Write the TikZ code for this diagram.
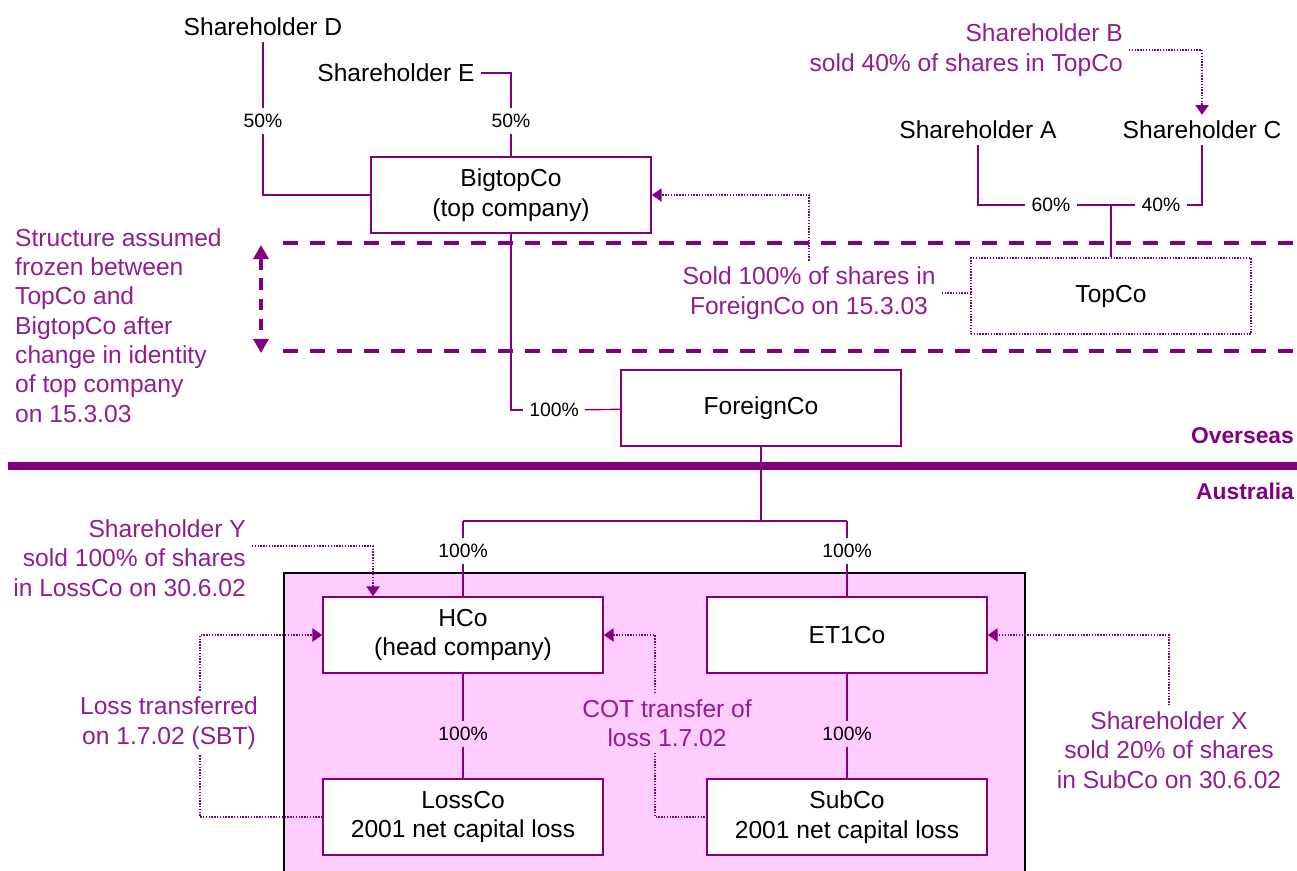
\documentclass[tikz,border=0pt]{standalone}
\usepackage{fontspec}
\setmainfont{Liberation Sans}
\usetikzlibrary{arrows.meta,positioning}
\definecolor{plum}{RGB}{128,0,128}
\definecolor{notepurple}{RGB}{145,30,145}
\definecolor{pinkfill}{RGB}{255,204,255}

\begin{document}
\begin{tikzpicture}[x=0.02cm,y=-0.02cm,
  font=\fontsize{14}{16.7}\selectfont,
  line/.style={draw=plum,line width=0.8pt},
  company/.style={draw=plum,line width=1pt,fill=white,minimum width=5.6cm,minimum height=1.52cm,align=center},
  pct/.style={font=\fontsize{11}{13}\selectfont},
  note/.style={text=notepurple},
  dots/.style={draw=plum,line width=0.8pt,dash pattern=on 0.8pt off 0.8pt},
  dotarrow/.style={dots,-{Triangle[length=5.5pt,width=7.5pt]}},
  freeze/.style={draw=plum,line width=2.8pt,dash pattern=on 8.5pt off 6.8pt},
  region/.style={text=plum,font=\fontsize{13}{15}\selectfont\bfseries,anchor=east,inner sep=1pt}]

\useasboundingbox (0,0) rectangle (1297,871);
\draw [black,line width=0.6pt,fill=pinkfill] (284,573) rectangle (1025,890); % Australian group

% overseas part
\node [] (shD) at (263,27) {Shareholder D};
\node [] (shE) at (396,73) {Shareholder E};
\node [pct] (pD) at (263,121) {50\%};
\node [pct] (pE) at (511,121) {50\%};
\node [company] (bigtop) at (511,195) {BigtopCo\\(top company)};
\node [company] (foreign) at (761,408) {ForeignCo};
\node [pct] (pF) at (554,410) {100\%};

\node [] (shA) at (978,130) {Shareholder A};
\node [] (shC) at (1202,130) {Shareholder C};
\node [pct] (pA) at (1051,205) {60\%};
\node [pct] (pC) at (1161,205) {40\%};
\node [company,line width=0.8pt,dash pattern=on 0.8pt off 0.8pt] (topco) at (1111,296) {TopCo};

\node [note,anchor=east,align=right] (shB) at (1129,50) {Shareholder B\\sold 40\% of shares in TopCo};
\node [note,align=center] (sold) at (809,293) {Sold 100\% of shares in\\ForeignCo on 15.3.03};
\node [note,anchor=north west,align=left] (frozen) at (9,222) {Structure assumed\\frozen between\\TopCo and\\BigtopCo after\\change in identity\\of top company\\on 15.3.03};

\draw [freeze] (283,243) -- (1297,243);
\draw [freeze] (283,351) -- (1297,351);
\draw [plum,line width=2.4pt,dash pattern=on 6.5pt off 5pt,{Triangle[length=8pt,width=8.5pt]}-{Triangle[length=8pt,width=8.5pt]}] (261,245) -- (261,353);

\node [region] (overseas) at (1296,436) {Overseas};
\draw [plum,line width=4.5pt] (8,466) -- (1297,466);
\node [region] (australia) at (1296,491) {Australia};

% australian part
\node [company] (hco) at (463,635) {HCo\\(head company)};
\node [company] (lossco) at (463,817) {LossCo\\2001 net capital loss};
\node [company] (et1) at (847,635) {ET1Co};
\node [company] (subco) at (847,817) {SubCo\\2001 net capital loss};
\node [pct] (pH) at (463,551) {100\%};
\node [pct] (pT) at (847,551) {100\%};
\node [pct] (pL) at (463,734) {100\%};
\node [pct] (pS) at (847,734) {100\%};
\coordinate (fork) at (761,521);

\node [note,anchor=east,align=right] (shY) at (252,558) {Shareholder Y\\sold 100\% of shares\\in LossCo on 30.6.02};
\node [note,align=center] (lossnote) at (169,723) {Loss transferred\\on 1.7.02 (SBT)};
\node [note,align=center] (cot) at (667,723) {COT transfer of\\loss 1.7.02};
\node [note,align=center] (shX) at (1169,750) {Shareholder X\\sold 20\% of shares\\in SubCo on 30.6.02};

% shareholdings
\draw [line] (shD) -- (pD);
\draw [line] (pD) |- (bigtop);
\draw [line] (shE) -| (pE);
\draw [line] (pE) -- (bigtop);
\draw [line] (bigtop) |- (pF);
\draw [line] (pF) -- (foreign);
\draw [line] (shA) |- (pA);
\draw [line] (pA) -- (pC);
\draw [line] (pC) -| (shC);
\draw [line] (topco) -- (topco.north |- pA);
\draw [line] (foreign) -- (fork);
\draw [line] (fork -| hco) -- (fork -| et1);
\draw [line] (fork -| hco) -- (pH);
\draw [line] (pH) -- (hco);
\draw [line] (fork -| et1) -- (pT);
\draw [line] (pT) -- (et1);
\draw [line] (hco) -- (pL);
\draw [line] (pL) -- (lossco);
\draw [line] (et1) -- (pS);
\draw [line] (pS) -- (subco);

% events
\draw [dotarrow] (shB) -| (shC);
\draw [dotarrow] (sold) |- (bigtop);
\draw [dots] (sold.east) -- (sold.east -| topco.west);
\draw [dotarrow] ([yshift=0.24cm]shY.east) -| ([xshift=-1.8cm]hco.north);
\draw [dotarrow] ([xshift=0.62cm]lossnote.north) |- (hco);
\draw [dots] ([xshift=0.62cm]lossnote.south) |- (lossco);
\draw [dotarrow] ([xshift=-0.24cm]cot.north) |- (hco);
\draw [dots] ([xshift=-0.24cm]cot.south) |- (subco);
\draw [dotarrow] (shX) |- (et1);
\end{tikzpicture}
\end{document}
